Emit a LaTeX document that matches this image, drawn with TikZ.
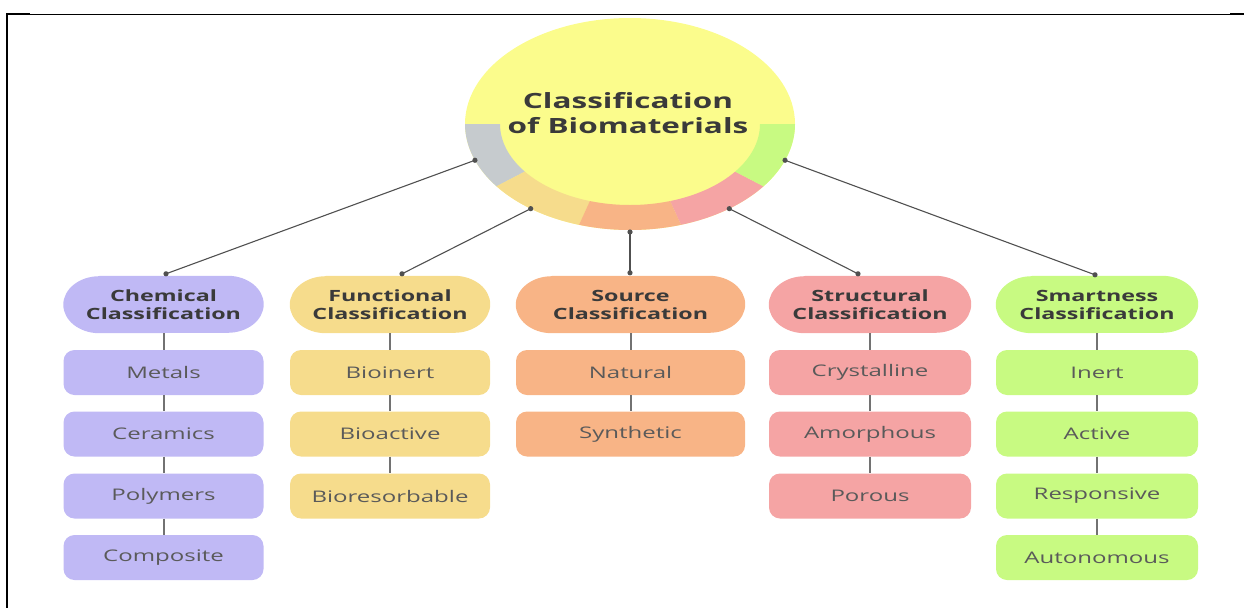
\documentclass[tikz,border=0pt]{standalone}
\usepackage{fontspec}
\setmainfont[FakeStretch=1.5]{Open Sans}
\usetikzlibrary{calc,backgrounds}
\definecolor{txtdark}{HTML}{3A3A3A}
\definecolor{txtgray}{HTML}{5A5A5A}
\definecolor{cYellow}{HTML}{FBFC8C}
\definecolor{cGray}{HTML}{C6CBCE}
\definecolor{cPurple}{HTML}{C0B9F5}
\definecolor{cSand}{HTML}{F6DC8C}
\definecolor{cOrange}{HTML}{F8B486}
\definecolor{cPink}{HTML}{F5A4A4}
\definecolor{cGreen}{HTML}{C8FA82}
\definecolor{linkgray}{HTML}{505050}
\definecolor{stemgray}{HTML}{727272}
\tikzset{
  catbox/.style={minimum height=57pt, inner sep=0pt,
    align=center, text=txtdark, font=\fontsize{15.5}{18}\selectfont\bfseries},
  leafbox/.style={rounded corners=11pt, minimum height=45pt, inner sep=0pt,
    text=txtgray, font=\fontsize{16}{19}\selectfont},
  link/.style={draw=linkgray, line width=1.1pt},
  stem/.style={draw=stemgray, line width=2pt},
  dotmark/.style={fill=linkgray, draw=none}
}
\newcommand{\stadiumfill}[2]{%
  \fill[#2] ([xshift=36pt]#1.north west) -- ([xshift=-36pt]#1.north east)
    arc[start angle=90, end angle=-90, x radius=36, y radius=28.5]
    -- ([xshift=36pt]#1.south west)
    arc[start angle=270, end angle=90, x radius=36, y radius=28.5] -- cycle;}
\begin{document}
\begin{tikzpicture}[x=1pt,y=1pt]
\useasboundingbox (0,0) rectangle (1244,-608);
% frame
\draw[black, line width=1pt] (7,-14) -- (1232,-14);
\draw[black, line width=2pt] (7,-14) -- (30,-14);
\draw[black, line width=2pt] (1230,-14) -- (1244,-14);
\draw[black, line width=2pt] (7,-13) -- (7,-608);

% central circle
\coordinate (C) at (630,-124);
\fill[cYellow] (C) ellipse[x radius=165, y radius=106];
\foreach \a/\b/\col in {180/216/cGray, 216/252/cSand, 252/288/cOrange, 288/324/cPink, 324/360/cGreen}{
  \fill[\col] ($(C)+(\a:165 and 106)$) arc[start angle=\a, end angle=\b, x radius=165, y radius=106]
    -- ($(C)+(\b:130 and 81)$) arc[start angle=\b, end angle=\a, x radius=130, y radius=81] -- cycle;
}
\node[align=center, text=txtdark, font=\fontsize{21}{25}\selectfont\bfseries] (root) at (628,-113)
  {Classification\\of Biomaterials};

% dots on ring
\coordinate (d1) at ($(C)+(200:165 and 106)$);
\coordinate (d2) at ($(C)+(233:165 and 106)$);
\coordinate (d3) at ($(C)+(270:168 and 108)$);
\coordinate (d4) at ($(C)+(307:165 and 106)$);
\coordinate (d5) at ($(C)+(340:165 and 106)$);

% category nodes
\node[catbox, minimum width=200pt] (chem) at (163.5,-304.5) {Chemical\\Classification};
\node[catbox, minimum width=200pt] (func) at (390,-304.5) {Functional\\Classification};
\node[catbox, minimum width=229pt] (src) at (630.5,-304.5) {Source\\Classification};
\node[catbox, minimum width=202pt] (stru) at (870,-304.5) {Structural\\Classification};
\node[catbox, minimum width=202pt] (smart) at (1097,-304.5) {Smartness\\Classification};
\begin{scope}[on background layer]
  \stadiumfill{chem}{cPurple}
  \stadiumfill{func}{cSand}
  \stadiumfill{src}{cOrange}
  \stadiumfill{stru}{cPink}
  \stadiumfill{smart}{cGreen}
\end{scope}

% leaf nodes
\node[leafbox, fill=cPurple, minimum width=200pt] (metals) at (163.5,-372.5) {Metals};
\node[leafbox, fill=cPurple, minimum width=200pt] (ceram) at (163.5,-434) {Ceramics};
\node[leafbox, fill=cPurple, minimum width=200pt] (poly) at (163.5,-496) {Polymers};
\node[leafbox, fill=cPurple, minimum width=200pt] (comp) at (163.5,-557.5) {Composite};

\node[leafbox, fill=cSand, minimum width=200pt] (bioin) at (390,-372.5) {Bioinert};
\node[leafbox, fill=cSand, minimum width=200pt] (bioac) at (390,-434) {Bioactive};
\node[leafbox, fill=cSand, minimum width=200pt] (biore) at (390,-496) {Bioresorbable};

\node[leafbox, fill=cOrange, minimum width=229pt] (nat) at (630.5,-372.5) {Natural};
\node[leafbox, fill=cOrange, minimum width=229pt] (syn) at (630.5,-434) {Synthetic};

\node[leafbox, fill=cPink, minimum width=202pt] (cry) at (870,-372.5) {Crystalline};
\node[leafbox, fill=cPink, minimum width=202pt] (amo) at (870,-434) {Amorphous};
\node[leafbox, fill=cPink, minimum width=202pt] (por) at (870,-496) {Porous};

\node[leafbox, fill=cGreen, minimum width=202pt] (inert) at (1097,-372.5) {Inert};
\node[leafbox, fill=cGreen, minimum width=202pt] (act) at (1097,-434) {Active};
\node[leafbox, fill=cGreen, minimum width=202pt] (resp) at (1097,-496) {Responsive};
\node[leafbox, fill=cGreen, minimum width=202pt] (auto) at (1097,-557.5) {Autonomous};

% end points on category tops
\coordinate (e1) at ([xshift=2.5pt,yshift=2pt]chem.north);
\coordinate (e2) at ([xshift=12pt,yshift=2pt]func.north);
\coordinate (e3) at ([xshift=-0.5pt,yshift=3pt]src.north);
\coordinate (e4) at ([xshift=-12pt,yshift=2pt]stru.north);
\coordinate (e5) at ([xshift=-2pt,yshift=1pt]smart.north);

\foreach \i in {1,...,5}{
  \draw[link] (d\i) -- (e\i);
  \fill[dotmark] (d\i) circle[radius=2.6];
  \fill[dotmark] (e\i) circle[radius=2.6];
}

% stems
\draw[stem] (chem) -- (metals);
\draw[stem] (metals) -- (ceram);
\draw[stem] (ceram) -- (poly);
\draw[stem] (poly) -- (comp);
\draw[stem] (func) -- (bioin);
\draw[stem] (bioin) -- (bioac);
\draw[stem] (bioac) -- (biore);
\draw[stem] (src) -- (nat);
\draw[stem] (nat) -- (syn);
\draw[stem] (stru) -- (cry);
\draw[stem] (cry) -- (amo);
\draw[stem] (amo) -- (por);
\draw[stem] (smart) -- (inert);
\draw[stem] (inert) -- (act);
\draw[stem] (act) -- (resp);
\draw[stem] (resp) -- (auto);
\end{tikzpicture}
\end{document}
